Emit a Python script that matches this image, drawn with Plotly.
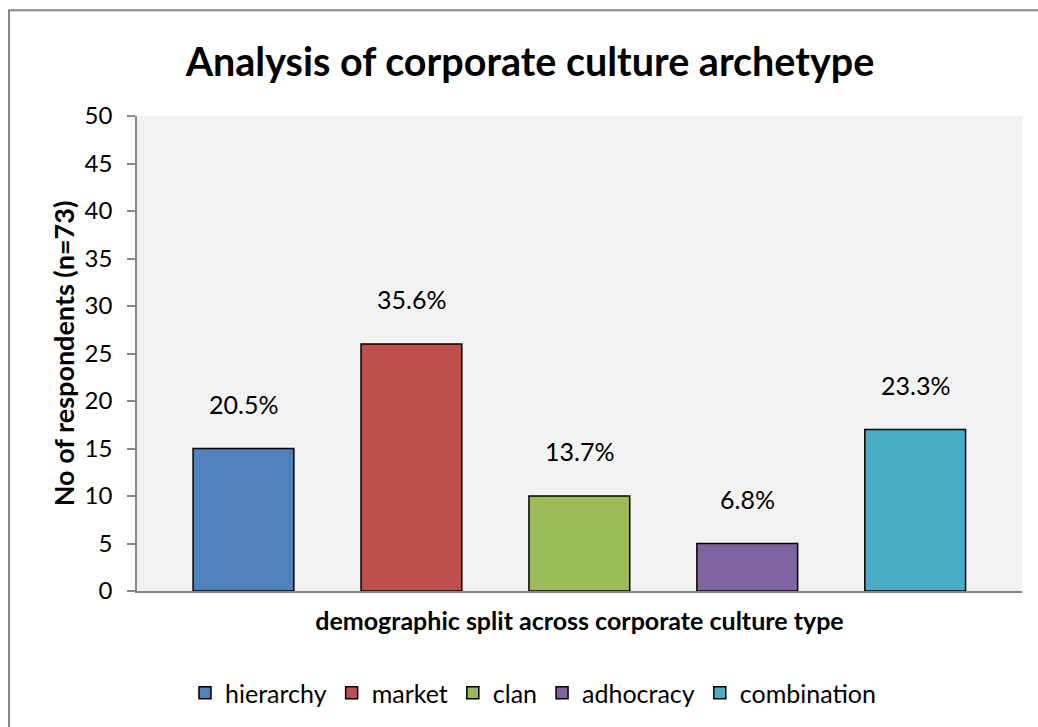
import plotly.graph_objects as go

categories = ["hierarchy", "market", "clan", "adhocracy", "combination"]
respondents = [15, 26, 10, 5, 17]
pct_labels = ["20.5%", "35.6%", "13.7%", "6.8%", "23.3%"]
colors = ["#4F81BD", "#C0504D", "#9BBB59", "#8064A2", "#4BACC6"]

W, H = 1038, 727
L, R, T, B = 137, 16, 116, 135
pw, ph = W - L - R, H - T - B
FONT = "Lato"

fig = go.Figure()
for cat, val, col in zip(categories, respondents, colors):
    fig.add_trace(go.Bar(
        x=[cat], y=[val], name=cat,
        marker=dict(color=col, line=dict(color="#000000", width=1.5)),
        width=0.6,
    ))

for cat, val, lab in zip(categories, respondents, pct_labels):
    fig.add_annotation(x=cat, y=val, text=lab, showarrow=False,
                       yanchor="middle", yshift=45,
                       font=dict(family=FONT, size=25, color="#000000"))

# outer chart border
fig.add_shape(type="rect", xref="paper", yref="paper",
              x0=(9 - L) / pw, x1=(W + 20 - L) / pw,
              y0=-(H + 20 - T - ph) / ph, y1=(T + ph - 10) / ph,
              line=dict(color="#868686", width=2), layer="below")

fig.update_layout(
    width=W, height=H,
    margin=dict(l=L, r=R, t=T, b=B),
    paper_bgcolor="#FFFFFF", plot_bgcolor="#F2F2F2",
    barmode="overlay",
    title=dict(text="<b>Analysis of corporate culture archetype</b>",
               x=530 / W, xanchor="center", y=1 - 62 / H, yanchor="middle",
               font=dict(family=FONT, size=39.5, color="#000000")),
    font=dict(family=FONT, color="#000000"),
    showlegend=True,
    legend=dict(orientation="h", x=(533 - L) / pw, xanchor="center",
                y=-(693 - T - ph) / ph, yanchor="middle",
                font=dict(family=FONT, size=25, color="#000000"),
                itemwidth=30, traceorder="normal", bgcolor="rgba(0,0,0,0)"),
    xaxis=dict(range=[-0.634, 4.636], showline=True, linecolor="#868686",
               linewidth=2, ticks="", showticklabels=False, showgrid=False,
               title=dict(text="<b>demographic split across corporate culture type</b>",
                          font=dict(family=FONT, size=25, color="#000000"),
                          standoff=20)),
    yaxis=dict(range=[0, 50], dtick=5, showline=True, linecolor="#868686",
               linewidth=1.5, ticks="outside", ticklen=8, tickcolor="#868686",
               tickwidth=1.5, showgrid=False, zeroline=False,
               ticklabelstandoff=10,
               tickfont=dict(family=FONT, size=24, color="#000000"),
               title=dict(text="<b>No of respondents (n=73)</b>",
                          font=dict(family=FONT, size=27, color="#000000"),
                          standoff=2)),
)

fig.write_html("out.html")
